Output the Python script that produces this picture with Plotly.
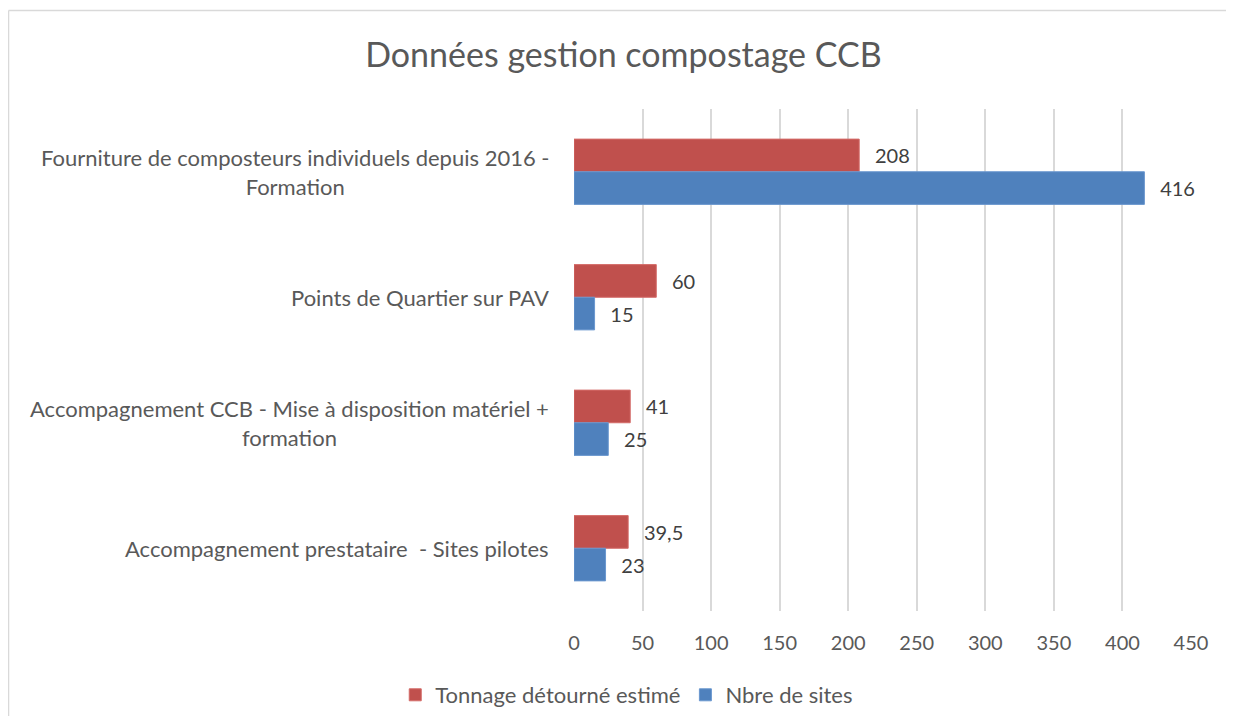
import plotly.graph_objects as go

categories = [
    "Fourniture de composteurs individuels depuis 2016 - Formation",
    "Points de Quartier sur PAV",
    "Accompagnement CCB - Mise à disposition matériel + formation",
    "Accompagnement prestataire  - Sites pilotes",
]
category_labels = [
    "Fourniture de composteurs individuels depuis 2016 -<br>Formation",
    "Points de Quartier sur PAV",
    "Accompagnement CCB - Mise à disposition matériel +<br>formation",
    "Accompagnement prestataire \u00a0- Sites pilotes",
]
tonnage = [208, 60, 41, 39.5]
sites = [416, 15, 25, 23]
x_ticks = [0, 50, 100, 150, 200, 250, 300, 350, 400, 450]

series_names = ["Tonnage détourné estimé", "Nbre de sites"]
colors = ["#C0504D", "#4F81BD"]
edge_colors = ["#D46B68", "#6A97CF"]

FONT = "Lato"
TXT = "#595959"

def fmt(v):
    return f"{v:g}".replace(".", ",")

fig = go.Figure()
for name, vals, c, ec in zip(series_names, [tonnage, sites], colors, edge_colors):
    fig.add_trace(go.Bar(
        y=categories, x=vals, name=name, orientation="h",
        marker=dict(color=c, line=dict(color=ec, width=1)),
        text=["\u00a0\u00a0\u2009" + fmt(v) for v in vals],
        textposition="outside", cliponaxis=False,
        textfont=dict(family=FONT, size=20, color="#404040"),
    ))

for cat, lab in zip(categories, category_labels):
    fig.add_annotation(
        x=-0.0373, xref="paper", y=cat, yref="y", text=lab,
        xanchor="right", yanchor="middle", align="center", showarrow=False,
        font=dict(family=FONT, size=22, color=TXT),
    )

# chart frame (top and left edges visible in the reference)
fig.add_shape(type="line", xref="paper", yref="paper",
              x0=-0.9165, x1=1.2, y0=1.196, y1=1.196,
              line=dict(color="#D9D9D9", width=1.5), layer="below")
fig.add_shape(type="line", xref="paper", yref="paper",
              x0=-0.9165, x1=-0.9165, y0=-0.3, y1=1.196,
              line=dict(color="#D9D9D9", width=1.5), layer="below")

fig.update_layout(
    width=1218, height=708,
    margin=dict(l=566, r=35, t=101, b=105),
    paper_bgcolor="white", plot_bgcolor="white",
    barmode="group", bargap=0.48, bargroupgap=0,
    title=dict(text="Données gestion compostage CCB", x=0.5053, xref="container",
               y=1 - 47 / 708, yref="container", xanchor="center", yanchor="middle",
               font=dict(family=FONT, size=34, color=TXT)),
    legend=dict(orientation="h", xref="container", yref="container",
                x=0.508, y=1 - 687 / 708, xanchor="center", yanchor="middle",
                font=dict(family=FONT, size=22, color=TXT), traceorder="normal",
                itemwidth=30),
    font=dict(family=FONT, color=TXT),
)
fig.update_xaxes(range=[0, 450], tickvals=x_ticks, showgrid=True,
                 gridcolor="#D9D9D9", gridwidth=1.5, zeroline=False,
                 showline=False, ticklabelstandoff=18,
                 tickfont=dict(family=FONT, size=20, color=TXT))
fig.update_yaxes(type="category", autorange="reversed", showticklabels=False,
                 showgrid=False, zeroline=False, showline=False)

fig.write_html("out.html")
